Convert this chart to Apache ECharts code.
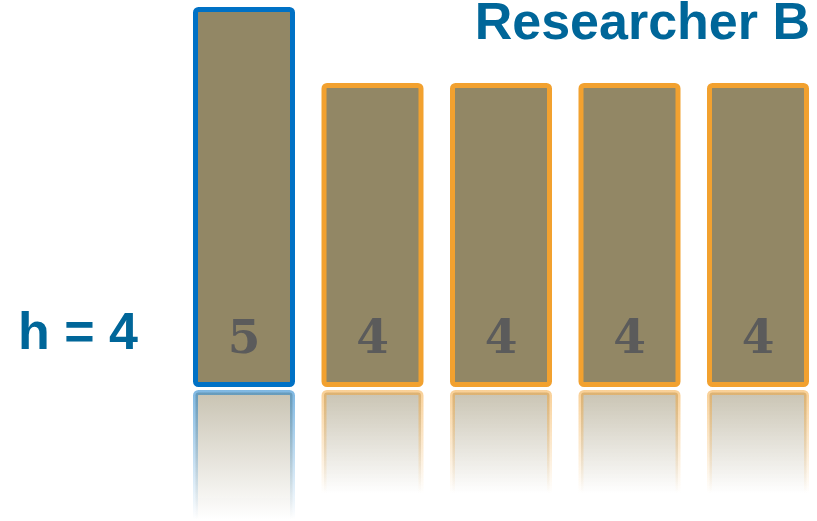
<!DOCTYPE html>
<html>
<head>
<meta charset="utf-8">
<script src="https://cdn.jsdelivr.net/npm/echarts@6/dist/echarts.min.js"></script>
<style>html,body{margin:0;padding:0;background:#fff}#c{width:817px;height:521px}</style>
</head>
<body>
<div id="c"></div>
<script>
const categories = ['P1', 'P2', 'P3', 'P4', 'P5'];
const citations = [5, 4, 4, 4, 4];
const inCore = [true, false, false, false, false];
const titleText = 'Researcher B';
const hText = 'h = 4';

const fill = '#928765';
const blue = '#0071c5';
const orange = '#f2a12f';

function rgba(hex, a) {
  const n = parseInt(hex.slice(1), 16);
  return `rgba(${(n >> 16) & 255},${(n >> 8) & 255},${n & 255},${a})`;
}
function fade(hex, a0) {
  return { type: 'linear', x: 0, y: 0, x2: 0, y2: 1, colorStops: [
    { offset: 0, color: rgba(hex, a0) },
    { offset: 0.34, color: rgba(hex, 0) },
    { offset: 1, color: rgba(hex, 0) }
  ]};
}

const chart = echarts.init(document.getElementById('c'));
chart.setOption({
  animation: false,
  grid: [
    { left: 244, right: 59, top: 7, height: 380 },
    { left: 244, right: 59, top: 390, height: 131 }
  ],
  xAxis: [
    { type: 'category', data: categories, gridIndex: 0, show: false, boundaryGap: false },
    { type: 'category', data: categories, gridIndex: 1, show: false, boundaryGap: false }
  ],
  yAxis: [
    { type: 'value', min: 0, max: 5, gridIndex: 0, show: false },
    { type: 'value', min: 0, max: 131 / 76, gridIndex: 1, inverse: true, show: false }
  ],
  series: [
    {
      type: 'bar', xAxisIndex: 0, yAxisIndex: 0, barWidth: 102, clip: false,
      data: citations.map((v, i) => ({ value: v, itemStyle: {
        color: fill, borderColor: inCore[i] ? blue : orange, borderWidth: 5, borderRadius: 3
      }})),
      label: {
        show: true, position: 'insideBottom', distance: 23,
        fontFamily: 'DejaVu Serif', fontWeight: 'bold', fontSize: 47, lineHeight: 47,
        color: '#5b5b5b'
      }
    },
    {
      type: 'bar', xAxisIndex: 1, yAxisIndex: 1, barWidth: 102, silent: true, clip: false,
      data: citations.map((v, i) => ({ value: v, itemStyle: {
        color: fade(fill, 0.5), borderColor: fade(inCore[i] ? blue : orange, 0.5), borderWidth: 5, borderRadius: 3
      }}))
    }
  ],
  graphic: [
    { type: 'text', right: 7, top: -1, style: { text: titleText, fill: '#006699',
      font: 'bold 52px "Liberation Sans", Arial, sans-serif' } },
    { type: 'text', left: 18, top: 309, style: { text: hText, fill: '#006699',
      font: 'bold 52px "Liberation Sans", Arial, sans-serif' } }
  ]
});
</script>
</body>
</html>
